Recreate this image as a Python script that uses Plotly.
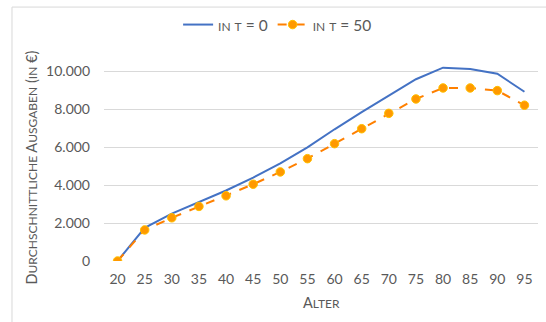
import plotly.graph_objects as go

# Average spending by age, at t = 0 and t = 50
ages = [20, 25, 30, 35, 40, 45, 50, 55, 60, 65, 70, 75, 80, 85, 90, 95]
spend_t0 = [0, 1750, 2500, 3100, 3720, 4400, 5150, 6000, 6950, 7850, 8730, 9590, 10200, 10130, 9880, 8930]
spend_t50 = [0, 1640, 2280, 2880, 3440, 4050, 4700, 5400, 6190, 6980, 7790, 8550, 9130, 9130, 8990, 8220]
y_ticks = [0, 2000, 4000, 6000, 8000, 10000]

FONT = "Lato"
GREY = "#595959"


def small_caps(text, big, small):
    """Render lowercase letters as reduced-size capitals."""
    out = []
    for ch in text:
        if ch.isalpha() and ch.islower():
            out.append(f'<span style="font-size:{small}px">{ch.upper()}</span>')
        else:
            out.append(ch)
    return f'<span style="font-size:{big}px">' + "".join(out) + "</span>"


fig = go.Figure()
fig.add_trace(go.Scatter(
    x=ages, y=spend_t0, mode="lines",
    name=small_caps("in t = 0", 15.5, 12),
    line=dict(color="#4472C4", width=2),
))
fig.add_trace(go.Scatter(
    x=ages, y=spend_t50, mode="lines+markers",
    name=small_caps("in t = 50", 15.5, 12),
    line=dict(color="#FF8000", width=2, dash="dash"),
    marker=dict(color="#FF9900", size=8.5, line=dict(color="#FFC000", width=1)),
))

fig.update_layout(
    width=546, height=322,
    margin=dict(l=104, r=8, t=62, b=61),
    paper_bgcolor="white", plot_bgcolor="white",
    separators=",.",
    font=dict(family=FONT, size=13, color=GREY),
    showlegend=True,
    legend=dict(
        orientation="h", x=0.4, y=1.186, xanchor="center", yanchor="middle",
        font=dict(family=FONT, size=15.5, color=GREY),
        itemwidth=30, tracegroupgap=0, bgcolor="rgba(0,0,0,0)",
    ),
    xaxis=dict(
        range=[17.5, 97.5], tickmode="array", tickvals=ages,
        showgrid=False, zeroline=False, showline=False, ticks="",
        ticklabelstandoff=8,
        tickfont=dict(family=FONT, size=14, color=GREY),
    ),
    yaxis=dict(
        range=[0, 10500], tickmode="array", tickvals=y_ticks, tickformat=",d",
        showgrid=True, gridcolor="#D9D9D9", gridwidth=1,
        zeroline=False, showline=False, ticks="", ticklen=0,
        ticklabelstandoff=13,
        tickfont=dict(family=FONT, size=14, color=GREY),
    ),
    annotations=[
        dict(
            text=small_caps("Durchschnittliche Ausgaben (in €)", 14.5, 12),
            xref="paper", yref="paper", x=-0.168, y=0.47,
            xanchor="center", yanchor="middle", textangle=-90,
            showarrow=False, font=dict(family=FONT, color=GREY),
        ),
        dict(
            text=small_caps("Alter", 14.5, 12),
            xref="paper", yref="paper", x=0.5, y=-0.211,
            xanchor="center", yanchor="middle",
            showarrow=False, font=dict(family=FONT, color=GREY),
        ),
    ],
    shapes=[
        dict(type="rect", xref="paper", yref="paper",
             x0=-0.212, x1=1.5, y0=-0.6, y1=1.276,
             line=dict(color="#D9D9D9", width=1), fillcolor="rgba(0,0,0,0)",
             layer="below"),
    ],
)

fig.write_html("out.html")
